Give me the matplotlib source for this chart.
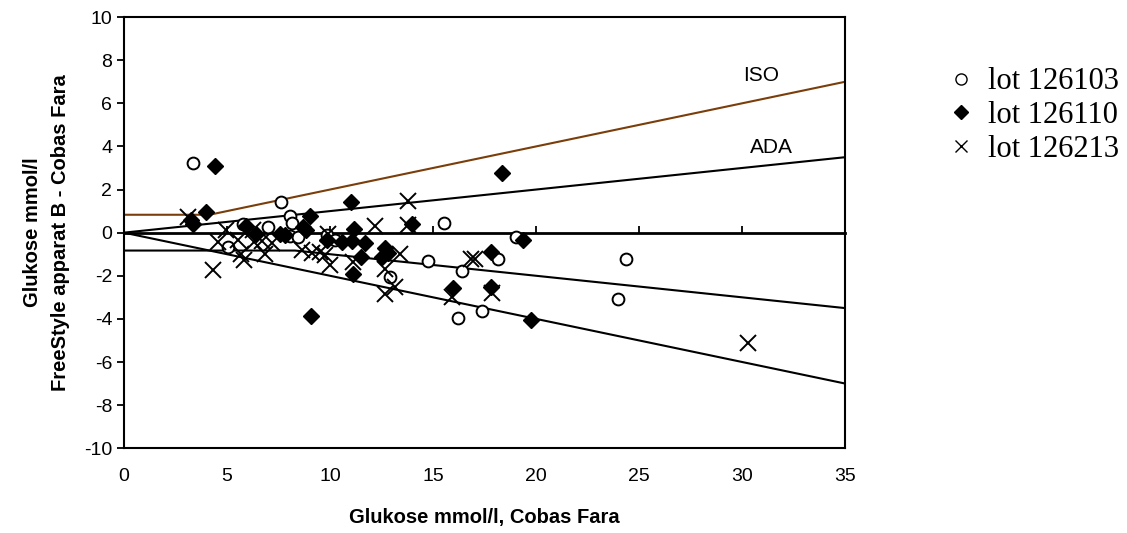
import matplotlib
matplotlib.use('Agg')
import matplotlib.pyplot as plt
from matplotlib.lines import Line2D

# Data
lot1_x = [3.36, 7.6, 8.05, 8.15, 7.0, 5.8, 8.05, 8.45, 5.05, 9.84, 10.24,
          15.53, 19.0, 12.9, 14.76, 16.4, 18.15, 17.36, 16.23, 23.96, 24.35]
lot1_y = [3.22, 1.42, 0.75, 0.47, 0.28, 0.38, -0.15, -0.18, -0.66, -0.12, -0.32,
          0.46, -0.2, -2.05, -1.32, -1.78, -1.22, -3.62, -3.98, -3.09, -1.22]

lot2_x = [4.42, 4.0, 3.25, 3.33, 9.05, 8.7, 8.85, 5.9, 6.4, 7.57, 7.8,
          11.0, 14.0, 11.18, 9.86, 10.57, 11.08, 11.7, 12.67, 12.83, 12.53,
          11.5, 11.1, 9.08, 15.97, 17.8, 17.8, 18.36, 19.36, 19.74]
lot2_y = [3.10, 0.97, 0.58, 0.38, 0.77, 0.24, 0.12, 0.3, -0.04, -0.08, -0.12,
          1.4, 0.42, 0.15, -0.35, -0.42, -0.4, -0.48, -0.73, -0.95, -1.15,
          -1.13, -1.90, -3.88, -2.57, -0.89, -2.53, 2.75, -0.35, -4.05]

lot3_x = [3.1, 4.3, 4.58, 4.95, 5.55, 5.82, 5.7, 6.25, 6.3, 6.84, 6.72,
          7.2, 8.62, 9.1, 9.5, 9.9, 10.0, 9.76, 13.8, 13.8, 12.18, 11.1,
          13.4, 12.65, 13.15, 12.67, 16.85, 17.05, 15.9, 17.85, 30.26]
lot3_y = [0.73, -1.72, -0.45, 0.1, -0.35, -1.28, -1.0, 0.1, -0.43, -0.97, -0.4,
          -0.5, -0.8, -0.95, -0.89, -0.04, -1.5, -1.04, 1.48, 0.35, 0.32, -1.36,
          -0.97, -1.7, -2.51, -2.86, -1.2, -1.2, -2.98, -2.82, -5.11]

lot_names = ['lot 126103', 'lot 126110', 'lot 126213']

# limit lines
iso_x = [0, 4.15, 35]
iso_y = [0.83, 0.83, 7]
ada_x = [0, 35]
ada_y = [0, 3.5]
low1_x = [0, 35]
low1_y = [0, -7]
low2_x = [0, 8.3, 35]
low2_y = [-0.83, -0.83, -3.5]

xticks = [0, 5, 10, 15, 20, 25, 30, 35]
yticks = [-10, -8, -6, -4, -2, 0, 2, 4, 6, 8, 10]

plt.rcParams['font.family'] = ['Liberation Sans', 'DejaVu Sans']
plt.rcParams['axes.unicode_minus'] = False

fig = plt.figure(figsize=(11.27, 5.33), dpi=100)
ax = fig.add_axes([0.110, 0.159, 0.640, 0.809])

ax.plot(iso_x, iso_y, color='#7a3e0a', lw=1.5)
ax.plot(ada_x, ada_y, color='black', lw=1.5)
ax.plot(low1_x, low1_y, color='black', lw=1.5)
ax.plot(low2_x, low2_y, color='black', lw=1.5)

ax.plot(lot1_x, lot1_y, 'o', mfc='white', mec='black', mew=1.4, ms=8.5, ls='none')
ax.plot(lot2_x, lot2_y, 'D', color='black', ms=8, ls='none')
ax.plot(lot3_x, lot3_y, 'x', color='black', mew=1.4, ms=11, ls='none')

ax.text(30.9, 7.3, 'ISO', fontsize=15, ha='center', va='center')
ax.text(31.4, 3.97, 'ADA', fontsize=15, ha='center', va='center')

ax.set_xlim(0, 35)
ax.set_ylim(-10, 10)
ax.set_xticks(xticks)
ax.set_yticks(yticks)
ax.tick_params(axis='x', length=0, pad=14, labelsize=14)
ax.tick_params(axis='y', direction='out', length=5, width=1.3, labelsize=14)
for s in ax.spines.values():
    s.set_linewidth(1.5)

# x-axis crossing at y = 0 with its tick marks
sec = ax.secondary_xaxis(0.5)
sec.set_xticks(xticks)
sec.set_xticklabels([])
sec.tick_params(direction='out', length=5, width=1.3)
for s in sec.spines.values():
    s.set_linewidth(2)

ax.set_xlabel('Glukose mmol/l, Cobas Fara', fontsize=14.5, fontweight='bold', labelpad=17)
ax.set_ylabel('Glukose mmol/l\nFreeStyle apparat B - Cobas Fara', fontsize=14.5,
              fontweight='bold', labelpad=10, linespacing=1.6)

handles = [
    Line2D([], [], marker='o', ls='none', mfc='white', mec='black', mew=1.0, ms=8),
    Line2D([], [], marker='D', ls='none', color='black', ms=7),
    Line2D([], [], marker='x', ls='none', color='black', mew=1.0, ms=8),
]
fig.legend(handles, lot_names, loc='upper left', bbox_to_anchor=(0.812, 0.925),
           frameon=False, handletextpad=0.3, handlelength=1.2, labelspacing=0.15,
           prop={'family': 'Liberation Serif', 'size': 22})

fig.savefig('out.png', dpi=100)
